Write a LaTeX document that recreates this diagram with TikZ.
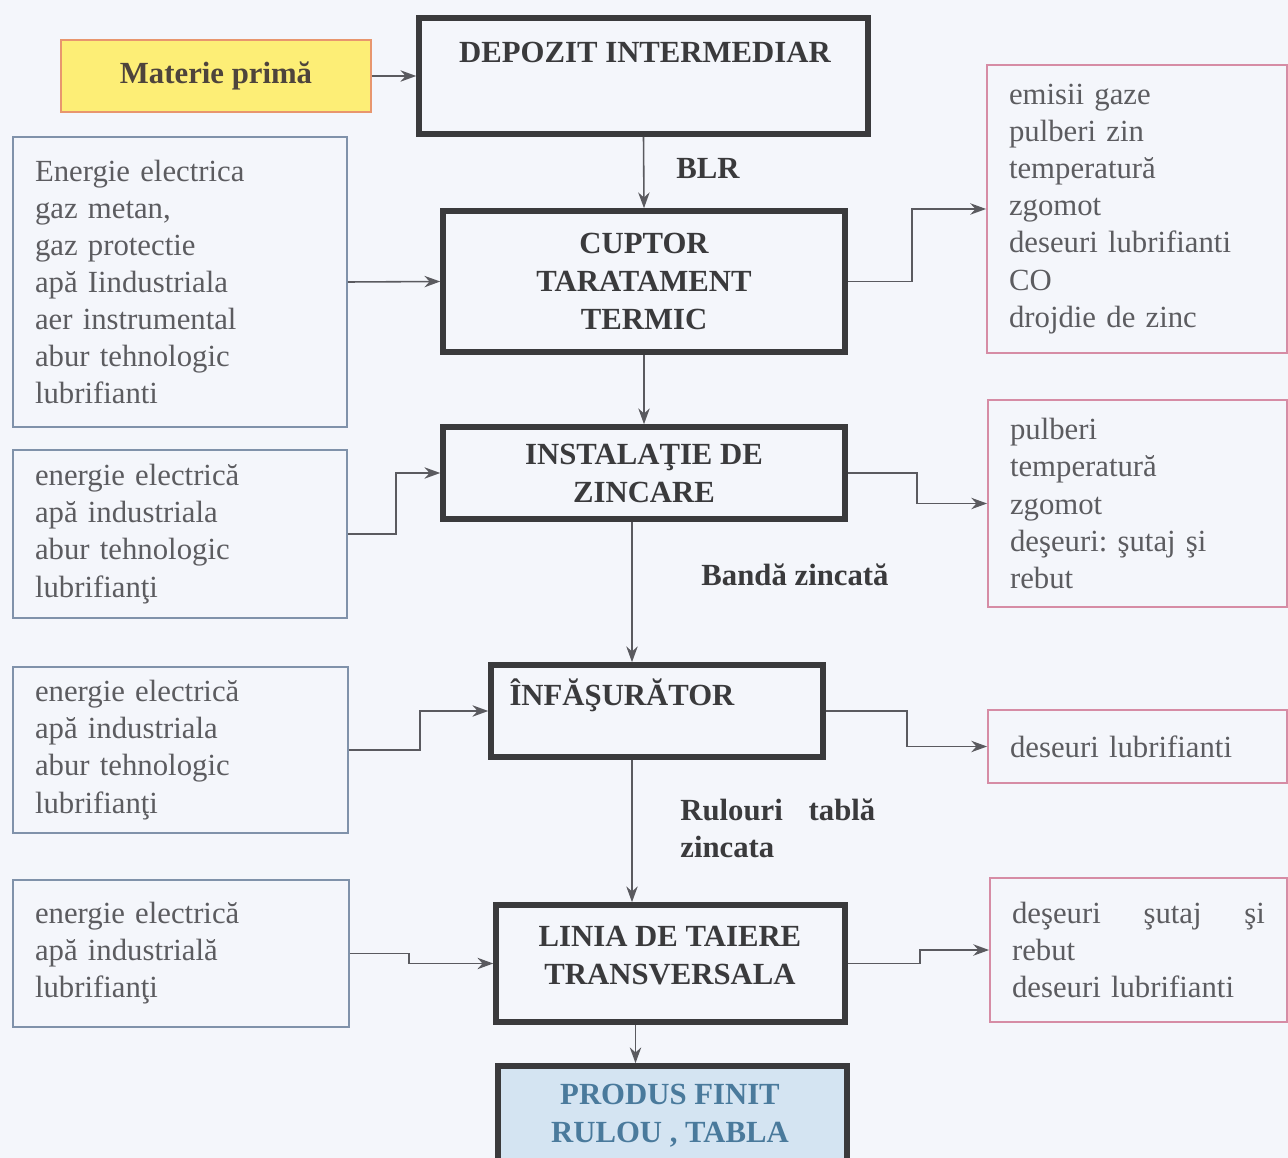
\documentclass[tikz,border=0pt]{standalone}
\usepackage{fontspec}
\setmainfont{Liberation Serif}
\usetikzlibrary{arrows.meta}

\definecolor{paper}{RGB}{244,246,251}
\definecolor{ink}{RGB}{58,58,60}
\definecolor{soft}{RGB}{92,92,96}
\definecolor{inbox}{RGB}{128,146,170}
\definecolor{outbox}{RGB}{214,140,165}
\definecolor{rawfill}{RGB}{253,238,118}
\definecolor{rawedge}{RGB}{232,150,110}
\definecolor{prodfill}{RGB}{212,228,242}
\definecolor{prodink}{RGB}{74,122,156}
\definecolor{wire}{RGB}{90,90,95}

\begin{document}
\frenchspacing
\begin{tikzpicture}[x=0.02cm,y=-0.02cm,
  txt/.style={font=\fontsize{17.5}{21.1}\selectfont},
  bold/.style={font=\fontsize{17.5}{21.6}\selectfont\bfseries, text=ink},
  inbox/.style={txt, draw=inbox, line width=1.1pt, fill=paper, text=soft,
    align=left, inner xsep=0.44cm, inner ysep=0pt},
  outbox/.style={txt, draw=outbox, line width=1.1pt, fill=paper, text=soft,
    align=left, inner xsep=0.44cm, inner ysep=0pt},
  stage/.style={bold, draw=ink, line width=3.2pt, fill=paper, align=center,
    inner sep=0pt},
  flow/.style={draw=wire, line width=0.9pt, -{Stealth[length=9pt,width=6.5pt]}}
]
% page
\fill[paper] (0,0) rectangle (1288,1158);
\useasboundingbox (0,0) rectangle (1288,1158);

% raw material
\node[draw=rawedge, line width=1.1pt, fill=rawfill, bold, text=ink!85!brown,
  minimum width=6.2cm, minimum height=1.44cm] (raw) at (216,76) {Materie primă};

% main process chain
\node[stage, minimum width=8.98cm, minimum height=2.32cm] (dep) at (643.5,76) {};
\node[bold] (deptxt) at (645,52) {DEPOZIT INTERMEDIAR};
\node[stage, minimum width=8.04cm, minimum height=2.82cm] (cup) at (644,281.5)
  {CUPTOR\\TARATAMENT\\TERMIC};
\node[stage, minimum width=8.04cm, minimum height=1.84cm] (inst) at (644,473)
  {INSTALAŢIE DE\\ZINCARE};
\node[stage, minimum width=6.64cm, minimum height=1.84cm] (inf) at (657,711) {};
\node[bold] (inftxt) at (622,695) {ÎNFĂŞURĂTOR};
\node[stage, minimum width=6.98cm, minimum height=2.34cm] (lin) at (670.5,963.5) {};
\node[bold, align=center] (lintxt) at (670,956) {LINIA DE TAIERE\\TRANSVERSALA};
\node[stage, fill=prodfill, minimum width=6.98cm, minimum height=2.28cm] (prod) at (672.5,1123) {};
\node[bold, text=prodink, align=center] (prodtxt) at (670,1116) {PRODUS FINIT\\RULOU , TABLA};

% inputs
\node[inbox, text width=5.80cm, minimum height=5.80cm] (l1) at (180,282)
  {Energie electrica\\gaz metan,\\gaz protectie\\apă Iindustriala\\aer instrumental\\abur tehnologic\\lubrifianti};
\node[inbox, text width=5.80cm, minimum height=3.36cm] (l2) at (180,534)
  {energie electrică\\apă industriala\\abur tehnologic\\lubrifianţi};
\node[inbox, text width=5.82cm, minimum height=3.32cm] (l3) at (180.5,750)
  {energie electrică\\apă industriala\\abur tehnologic\\lubrifianţi};
\node[inbox, text width=5.84cm, minimum height=2.94cm] (l4) at (181,953.5)
  {energie electrică\\apă industrială\\lubrifianţi};

% outputs
\node[outbox, text width=5.12cm, minimum height=5.76cm] (r1) at (1137,209)
  {emisii gaze\\pulberi zin\\temperatură\\zgomot\\deseuri lubrifianti\\CO\\drojdie de zinc};
\node[outbox, text width=5.10cm, minimum height=4.14cm] (r2) at (1137.5,503.5)
  {pulberi\\temperatură\\zgomot\\deşeuri: şutaj şi\\rebut};
\node[outbox, text width=5.10cm, minimum height=1.46cm] (r3) at (1137.5,746.5)
  {deseuri lubrifianti};
\node[outbox, text width=5.06cm, minimum height=2.88cm] (r4) at (1138.5,950)
  {deşeuri\hfill şutaj\hfill şi\\rebut\\deseuri lubrifianti};

% flow labels
\node[bold] (blr) at (708,168) {BLR};
\node[bold] (banda) at (795,575) {Bandă zincată};
\node[bold, align=left, text width=3.9cm, inner sep=0pt, anchor=north west] (rul) at (680,798)
  {Rulouri\hfill tablă\\zincata};

% main flow
\draw[flow] (raw) -- (dep);
\draw[flow] (dep.south) -- (cup.north);
\draw[flow] (cup.south) -- (inst.north);
\draw[flow] ([xshift=-12*0.02cm]inst.south) coordinate (a1) -- (a1 |- inf.north);
\draw[flow] ([xshift=-25*0.02cm]inf.south) coordinate (a2) -- (a2 |- lin.north);
\draw[flow] ([xshift=-35*0.02cm]lin.south) coordinate (a3) -- (a3 |- prod.north);

% inputs into stages
\draw[flow] (l1.east) -- (cup.west);
\draw[flow] (l2.east) -- ++(48,0) |- (inst.west);
\draw[flow] (l3.east) -- ++(71,0) |- (inf.west);
\draw[flow] (l4.east) -- ++(59,0) |- (lin.west);

% outputs from stages
\draw[flow] (cup.east) -- ++(64,0) |- (r1.west);
\draw[flow] (inst.east) -- ++(69,0) |- (r2.west);
\draw[flow] (inf.east) -- ++(81,0) |- (r3.west);
\draw[flow] (lin.east) -- ++(72,0) |- (r4.west);
\end{tikzpicture}
\end{document}
